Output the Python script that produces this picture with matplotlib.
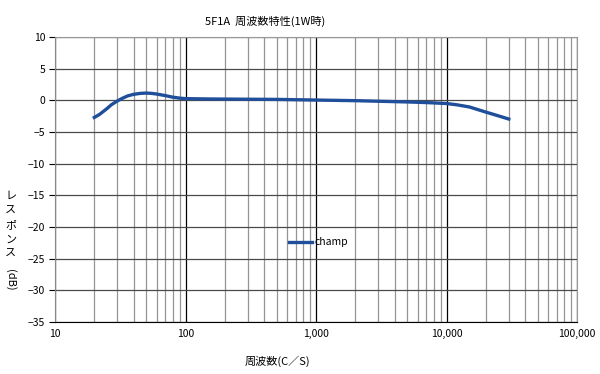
import numpy as np
import matplotlib
matplotlib.use('Agg')
from matplotlib import pyplot as plt
from matplotlib.ticker import FixedLocator, LogLocator, NullFormatter

plt.rcParams['font.family'] = ['Noto Sans CJK JP', 'DejaVu Sans']

# response
freq = [20, 22, 25, 27, 30, 33, 36, 40, 45, 50, 55, 60, 70, 80, 90, 100, 150,
        200, 500, 1000, 2000, 5000, 7000, 10000, 12000, 15000, 20000, 25000, 30000]
resp = [-2.7, -2.2, -1.3, -0.7, -0.1, 0.35, 0.7, 0.95, 1.1, 1.15, 1.1, 1.0, 0.75,
        0.5, 0.35, 0.27, 0.22, 0.2, 0.15, 0.05, -0.05, -0.25, -0.35, -0.5, -0.7,
        -1.05, -1.85, -2.45, -2.95]

xticks = [10, 100, 1000, 10000, 100000]
xlabels = ['10', '100', '1,000', '10,000', '100,000']
yticks = [10, 5, 0, -5, -10, -15, -20, -25, -30, -35]

fig = plt.figure(figsize=(6, 3.74), dpi=100)
ax = fig.add_axes([0.0917, 0.139, 0.87, 0.762])

ax.plot(freq, resp, color='#1F4E9A', lw=2.4, label='champ')

ax.set_xscale('log')
ax.set_xlim(10, 100000)
ax.set_ylim(-35, 10)
ax.xaxis.set_major_locator(FixedLocator(xticks))
ax.set_xticklabels(xlabels)
ax.xaxis.set_minor_locator(LogLocator(base=10, subs=np.arange(2, 10)))
ax.xaxis.set_minor_formatter(NullFormatter())
ax.set_yticks(yticks)

ax.grid(which='major', axis='x', color='black', lw=0.9)
ax.grid(which='minor', axis='x', color='#959595', lw=0.9)
ax.grid(which='major', axis='y', color='#4a4a4a', lw=0.9)
ax.set_axisbelow(True)

for s in ['top', 'right']:
    ax.spines[s].set_color('#999999')
    ax.spines[s].set_linewidth(0.8)
ax.spines['left'].set_color('#888888')
ax.spines['bottom'].set_color('black')

ax.tick_params(axis='x', which='both', length=0, pad=5, labelsize=7.5)
ax.tick_params(axis='y', length=4, width=0.8, pad=3, labelsize=7.5, color='black')

# title and x label sit left of the axes centre in the original
ax.set_title('5F1A  周波数特性(1W時)', fontsize=8, pad=9, x=0.402)
ax.set_xlabel('周波数(C／S)', fontsize=8, labelpad=12, x=0.427)

# vertical stacked y label (katakana upright, (dB) turned sideways)
for i, ch in enumerate('レスポンス'):
    fig.text(0.018, 1 - (196 + i * 14.5) / 374, ch, fontsize=8,
             ha='center', va='center')
fig.text(0.018, 1 - 280 / 374, '(dB)', fontsize=8, rotation=-90,
         ha='center', va='center')

ax.legend(loc='center', bbox_to_anchor=(0.505, 0.28), frameon=False,
          fontsize=7.5, handlelength=2.2, handletextpad=0.3)

plt.savefig('out.png', dpi=100)
